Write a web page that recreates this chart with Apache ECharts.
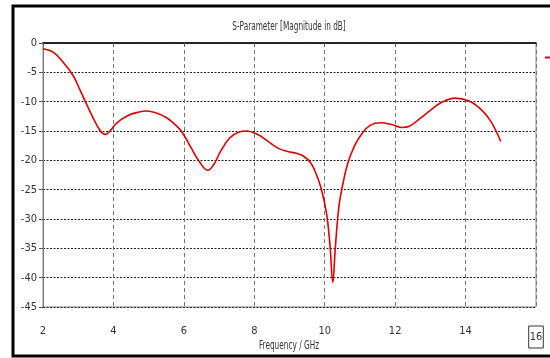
<!DOCTYPE html>
<html>
<head>
<meta charset="utf-8">
<script src="https://cdn.jsdelivr.net/npm/echarts@6/dist/echarts.min.js"></script>
<style>
  html, body { margin: 0; padding: 0; background: #fff; }
  #chart { width: 550px; height: 358px; }
</style>
</head>
<body>
<div id="chart"></div>
<script>
// S11 sweep: frequency (GHz) and magnitude (dB)
const freqGHz = [2.0, 2.3, 2.6, 2.85, 3.05, 3.25, 3.45, 3.63, 3.77, 3.9, 4.1, 4.4, 4.7, 4.95, 5.2, 5.5, 5.75, 5.95,
  6.2, 6.45, 6.68, 6.85, 7.05, 7.3, 7.55, 7.8, 8.1, 8.4, 8.7, 8.95, 9.2, 9.4, 9.6, 9.75, 9.9, 10.05, 10.15, 10.23,
  10.3, 10.4, 10.5, 10.65, 10.85, 11.05, 11.3, 11.6, 11.9, 12.2, 12.4, 12.7, 13.0, 13.3, 13.7, 14.1, 14.4, 14.7, 15.0];
const s11dB = [-1.0, -1.6, -3.5, -5.5, -8.0, -10.6, -13.1, -15.0, -15.6, -15.0, -13.6, -12.4, -11.8, -11.6, -11.9, -12.7, -13.9, -15.2,
  -17.8, -20.3, -21.7, -20.7, -18.4, -16.2, -15.2, -15.0, -15.6, -16.8, -18.0, -18.5, -18.8, -19.3, -20.4, -22.2, -24.8, -29.0, -34.5, -40.8,
  -35.0, -28.0, -24.5, -20.6, -17.5, -15.5, -14.0, -13.6, -13.9, -14.4, -14.2, -12.9, -11.5, -10.2, -9.4, -9.9, -11.1, -13.2, -16.8];

const seriesName = 'S1,1';
const titleText = 'S-Parameter [Magnitude in dB]';
const xAxisTitle = 'Frequency / GHz';

const FONT = "'Liberation Sans Narrow', 'DejaVu Sans Condensed', 'Liberation Sans', sans-serif";
const TEXT_COLOR = '#333';

const chart = echarts.init(document.getElementById('chart'), null, { renderer: 'canvas' });

chart.setOption({
  backgroundColor: '#ffffff',
  animation: false,
  legend: {
    data: [seriesName],
    left: 540, top: 47,
    icon: 'rect', itemWidth: 14, itemHeight: 2,
    textStyle: { fontFamily: FONT, fontSize: 11, color: TEXT_COLOR }
  },
  graphic: [{
    // outer window frame
    type: 'rect',
    shape: { x: 13, y: 6, width: 560, height: 350 },
    style: { fill: null, stroke: '#000', lineWidth: 3 },
    silent: true
  }, {
    // chart title, narrow face
    type: 'text',
    x: 289, y: 27, scaleX: 0.68,
    style: { text: titleText, font: '12px ' + FONT, fill: TEXT_COLOR, align: 'center', verticalAlign: 'middle' },
    silent: true
  }, {
    // x axis title, narrow face
    type: 'text',
    x: 289, y: 346, scaleX: 0.68,
    style: { text: xAxisTitle, font: '12px ' + FONT, fill: TEXT_COLOR, align: 'center', verticalAlign: 'middle' },
    silent: true
  }],
  grid: {
    left: 43, right: 14, top: 43, bottom: 51,
    outerBoundsMode: 'none',
    containLabel: false,
    show: true, borderColor: '#888', borderWidth: 1
  },
  xAxis: [{
    type: 'value',
    min: 2, max: 16, interval: 2,
    axisLine: { lineStyle: { color: '#555', width: 1.5 } },
    axisTick: { show: true, length: 3, lineStyle: { color: '#555' } },
    axisLabel: {
      margin: 19,
      fontFamily: FONT, fontSize: 11, color: TEXT_COLOR,
      showMaxLabel: true, showMinLabel: true,
      formatter: v => v === 16 ? '{box|16}' : String(v),
      rich: { box: { fontFamily: FONT, fontSize: 11, color: TEXT_COLOR, borderColor: '#333', borderWidth: 1, padding: [6, 1, 5, 1] } }
    },
    splitLine: { show: true, lineStyle: { color: '#777', type: [4, 3], width: 1 } }
  }, {
    type: 'value',
    position: 'top',
    min: 2, max: 16,
    axisLine: { show: true, lineStyle: { color: '#111', width: 1.5 } },
    axisTick: { show: false }, axisLabel: { show: false }, splitLine: { show: false }
  }],
  yAxis: {
    type: 'value',
    min: -45, max: 0, interval: 5,
    axisLine: { show: true, lineStyle: { color: '#777', width: 1 } },
    axisTick: { show: true, length: 4, lineStyle: { color: '#555' } },
    axisLabel: { margin: 6, fontFamily: FONT, fontSize: 11, color: TEXT_COLOR },
    splitLine: { show: true, lineStyle: { color: '#222', type: [2, 1.5], width: 1 } }
  },
  series: [{
    name: seriesName,
    type: 'line',
    xAxisIndex: 0,
    data: freqGHz.map((f, i) => [f, s11dB[i]]),
    smooth: 0.4,
    showSymbol: false,
    symbol: 'none',
    lineStyle: { color: '#e00000', width: 1.6 },
    itemStyle: { color: '#e00000' }
  }]
});
</script>
</body>
</html>
